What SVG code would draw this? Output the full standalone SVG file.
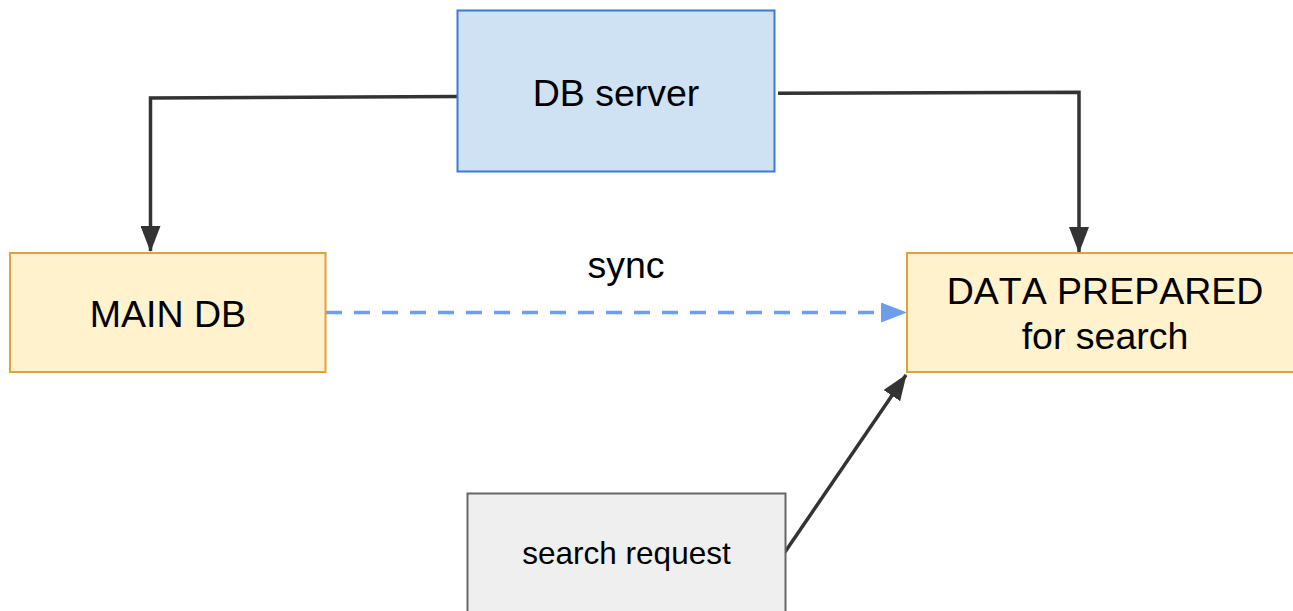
<svg xmlns="http://www.w3.org/2000/svg" width="1293" height="611" viewBox="0 0 1293 611">
  <defs>
    <style>
      .label { font-family: "Liberation Sans", Arial, sans-serif; fill: #000; text-anchor: middle; font-kerning: none; }
      .big { font-size: 37.5px; }
      .small { font-size: 31.5px; }
      .wire { fill: none; stroke: #333333; stroke-width: 3.5; }
      .sync { fill: none; stroke: #6d9eeb; stroke-width: 3.6; stroke-dasharray: 16 12; }
      .store { fill: #fff2cc; stroke: #e1a23b; stroke-width: 2; }
    </style>
    <marker id="head-dark" markerUnits="userSpaceOnUse" viewBox="0 0 26 20" refX="25" refY="10" markerWidth="26" markerHeight="20" orient="auto">
      <path d="M0,0 L26,10 L0,20 Z" fill="#333333"/>
    </marker>
    <marker id="head-blue" markerUnits="userSpaceOnUse" viewBox="0 0 26 20" refX="25" refY="10" markerWidth="26" markerHeight="20" orient="auto">
      <path d="M0,0 L26,10 L0,20 Z" fill="#6d9eeb"/>
    </marker>
  </defs>

  <rect width="1293" height="611" fill="#ffffff"/>

  <g id="connectors">
    <polyline class="wire" points="457,96.5 150.5,98 150.5,251" marker-end="url(#head-dark)"/>
    <polyline class="wire" points="778,93.3 1079,92.3 1079,252" marker-end="url(#head-dark)"/>
    <line class="sync" x1="326" y1="312.5" x2="906" y2="312.5" marker-end="url(#head-blue)"/>
    <line class="wire" x1="785" y1="552" x2="906" y2="375" marker-end="url(#head-dark)"/>
    <text class="label big" x="626" y="277.5">sync</text>
  </g>

  <g id="db-server">
    <rect x="457.5" y="10.5" width="317" height="161" fill="#cfe2f3" stroke="#3c78d8" stroke-width="2"/>
    <text class="label big" x="616" y="106">DB server</text>
  </g>

  <g id="main-db">
    <rect class="store" x="10" y="253" width="315.5" height="119"/>
    <text class="label big" x="168" y="327">MAIN DB</text>
  </g>

  <g id="data-prepared">
    <rect class="store" x="907" y="253" width="396" height="119"/>
    <text class="label big" x="1105" y="304">DATA PREPARED</text>
    <text class="label big" x="1105" y="349">for search</text>
  </g>

  <g id="search-request">
    <rect x="467.5" y="493.5" width="318" height="140" fill="#efefef" stroke="#666666" stroke-width="2"/>
    <text class="label small" x="626.5" y="563.5">search request</text>
  </g>
</svg>
